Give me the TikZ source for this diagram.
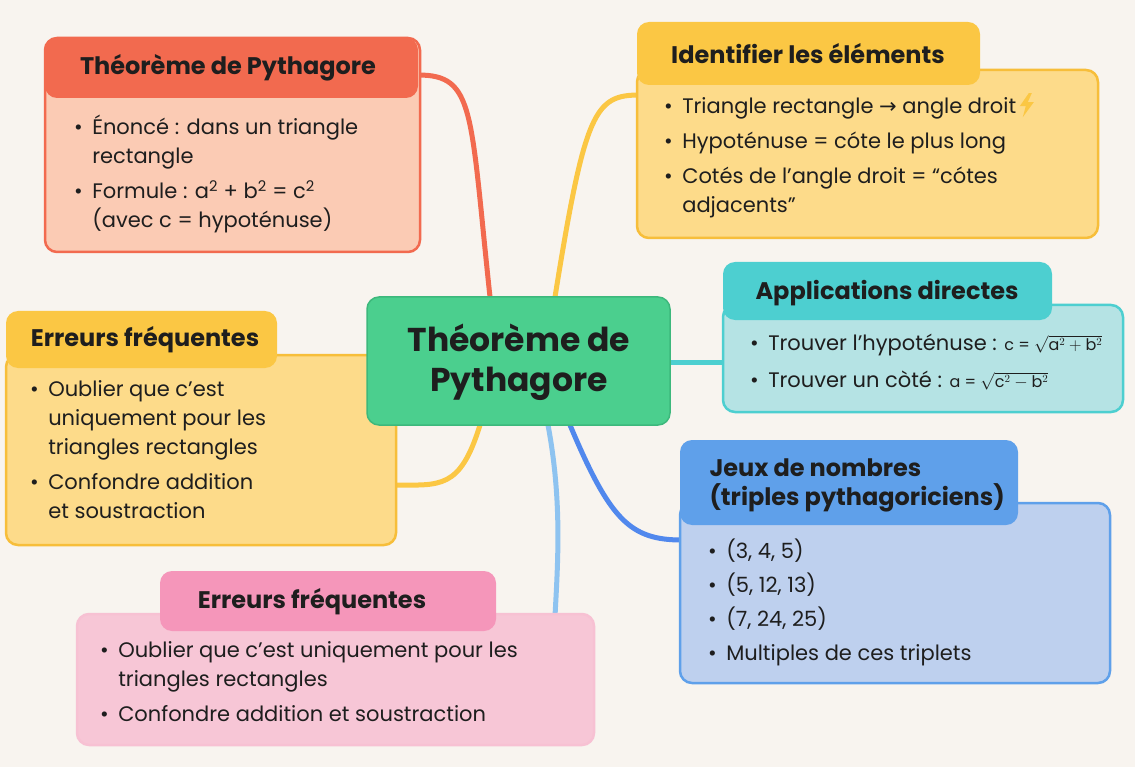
\documentclass[tikz,border=0pt]{standalone}
\usepackage{fontspec}
\setmainfont{Poppins}
\newfontfamily\symf{DejaVu Sans}
\definecolor{bg}{HTML}{F8F4EF}
\definecolor{redT}{HTML}{F26A4F}\definecolor{redB}{HTML}{FBCBB4}
\definecolor{yelT}{HTML}{FBC744}\definecolor{yelB}{HTML}{FDDB8A}\definecolor{yelD}{HTML}{F7BE3A}
\definecolor{cyaT}{HTML}{4DCFD0}\definecolor{cyaB}{HTML}{B5E3E4}
\definecolor{bluT}{HTML}{5FA0EA}\definecolor{bluB}{HTML}{BED0EE}
\definecolor{pinT}{HTML}{F596BA}\definecolor{pinB}{HTML}{F7C6D6}
\definecolor{grn}{HTML}{4BCF8E}\definecolor{grnD}{HTML}{3DB87C}
\definecolor{lblu}{HTML}{8EC3F0}\definecolor{txt}{HTML}{1E1E1E}
\tikzset{
 body/.style={rounded corners=12pt,line width=2.5pt},
 tab/.style={rounded corners=12pt},
 ttl/.style={font=\fontsize{24}{29}\selectfont\bfseries,text=txt,align=center},
 itm/.style={font=\fontsize{21}{29}\selectfont,text=txt,align=left,anchor=north west,inner sep=0pt},
 link/.style={line width=5pt,line cap=round},
}
\newcommand{\bul}{\textbullet\hspace{0.45em}}
\newcommand{\ind}{\hphantom{\textbullet\hspace{0.45em}}}
\begin{document}
\begin{tikzpicture}[x=1pt,y=-1pt]
\fill[bg] (0,0) rectangle (1135,767);
\useasboundingbox (0,0) rectangle (1135,767);
% connectors
\coordinate (cT1) at (490,297); \coordinate (cT2) at (555,297);
\coordinate (cR) at (670,362); \coordinate (cB1) at (570,425);
\coordinate (cB2) at (548,425); \coordinate (cB3) at (480,425);
\coordinate (redE) at (418,75); \coordinate (yelE) at (640,95);
\coordinate (cyaE) at (725,362); \coordinate (bluE) at (682,540);
\coordinate (pinE) at (555,616); \coordinate (lyE) at (394,485);
\draw[link,redT] (cT1) .. controls (470,110) and (475,75) .. (redE);
\draw[link,yelT] (cT2) .. controls (585,110) and (595,95) .. (yelE);
\draw[link,cyaT] (cR) -- (cyaE);
\draw[link,bluT!85!blue] (cB1) .. controls (610,520) and (630,540) .. (bluE);
\draw[link,lblu] (cB2) .. controls (562,500) and (558,560) .. (pinE);
\draw[link,yelT] (cB3) .. controls (460,490) and (440,485) .. (lyE);
% red
\draw[body,draw=redT,fill=redB] (45,38) rectangle (420,252);
\fill[tab,redT] (45,38) rectangle (418,98);
\node[ttl] (t1) at (228,68) {Théorème de Pythagore};
\node[itm] (b1) at (74,115) {\bul Énoncé : dans un triangle\\ \ind rectangle\\[6pt] \bul Formule : a\textsuperscript{2} + b\textsuperscript{2} = c\textsuperscript{2}\\ \ind (avec c = hypoténuse)};
% yellow top
\draw[body,draw=yelD,fill=yelB] (637,70) rectangle (1098,238);
\fill[tab,yelT] (637,22) rectangle (980,85);
\node[ttl] (t2) at (808,54) {Identifier les éléments};
\node[itm] (b2) at (664,93) {\bul Triangle rectangle {\symf →} angle droit\,\tikz[baseline=0pt,x=1pt,y=1pt]\fill[yelT](9,20)--(0,7)--(6,7)--(3,-4)--(14,11)--(8,11)--(12,20)--cycle;\\[6pt] \bul Hypoténuse = cóte le plus long\\[6pt] \bul Cotés de l’angle droit = “cótes\\ \ind adjacents”};
% cyan
\draw[body,draw=cyaT,fill=cyaB] (723,305) rectangle (1123,412);
\fill[tab,cyaT] (723,262) rectangle (1052,320);
\node[ttl] (t3) at (887,293) {Applications directes};
\node[itm] (b3) at (750,334) {\bul Trouver l’hypoténuse : {\fontsize{16}{20}\selectfont c = $\sqrt{\mathrm{a}^2+\mathrm{b}^2}$}\\[8pt] \bul Trouver un còté : {\fontsize{16}{20}\selectfont a = $\sqrt{\mathrm{c}^2-\mathrm{b}^2}$}};
% blue
\draw[body,draw=bluT,fill=bluB] (680,503) rectangle (1110,683);
\fill[tab,bluT] (680,440) rectangle (1018,525);
\node[ttl,align=left,anchor=west] (t4) at (706,485) {Jeux de nombres\\(triples pythagoriciens)};
\node[itm] (b4) at (708,539) {\bul (3, 4, 5)\\[5pt] \bul (5, 12, 13)\\[5pt] \bul (7, 24, 25)\\[5pt] \bul Multiples de ces triplets};
% pink
\draw[body,draw=pinB!90!pinT,fill=pinB] (77,614) rectangle (594,745);
\fill[tab,pinT] (160,571) rectangle (496,631);
\node[ttl] (t5) at (312,602) {Erreurs fréquentes};
\node[itm] (b5) at (100,641) {\bul Oublier que c’est uniquement pour les\\ \ind triangles rectangles\\[6pt] \bul Confondre addition et soustraction};
% left yellow
\draw[body,draw=yelD,fill=yelB] (6,355) rectangle (396,545);
\fill[tab,yelT] (6,311) rectangle (277,368);
\node[ttl] (t6) at (145,340) {Erreurs fréquentes};
\node[itm] (b6) at (30,380) {\bul Oublier que c’est\\ \ind uniquement pour les\\ \ind triangles rectangles\\[6pt] \bul Confondre addition\\ \ind et soustraction};
% central
\draw[rounded corners=12pt,fill=grn,draw=grnD,line width=1.5pt] (367,297) rectangle (670,425);
\node[font=\fontsize{33}{40}\selectfont\bfseries,text=txt,align=center] (c) at (519,362) {Théorème de\\Pythagore};
\end{tikzpicture}
\end{document}
